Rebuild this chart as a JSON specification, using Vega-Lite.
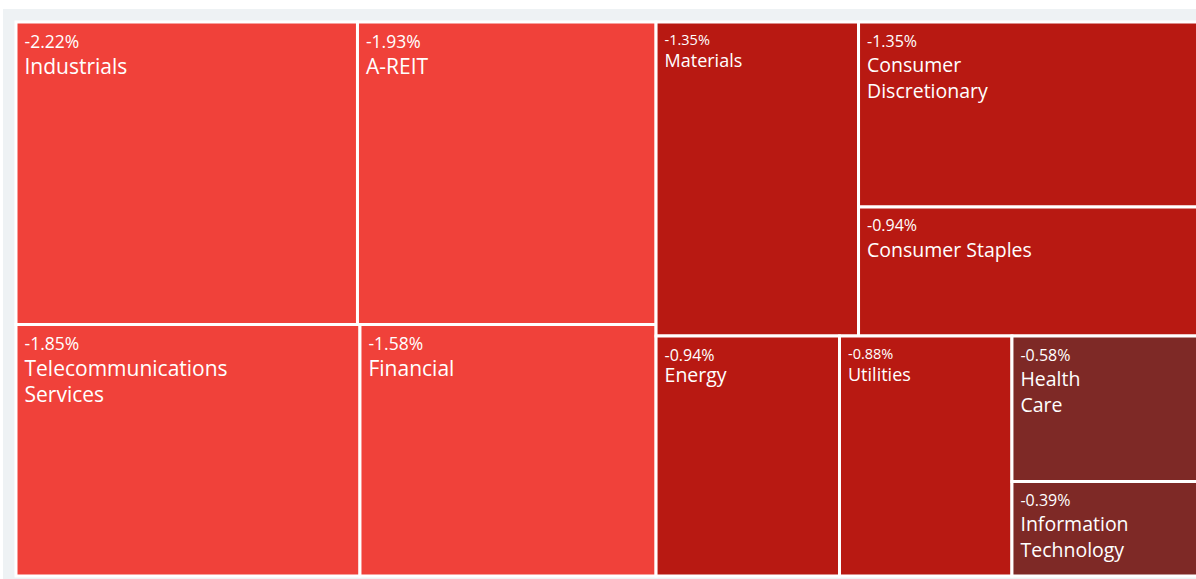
{
  "$schema": "https://vega.github.io/schema/vega-lite/v6.json",
  "width": 1193,
  "height": 570,
  "padding": {"left": 3, "top": 9, "right": 0, "bottom": 0},
  "autosize": {"type": "none"},
  "background": "#ffffff",
  "config": {"view": {"fill": "#eef2f4", "stroke": null}, "font": "Open Sans"},
  "data": {
    "values": [
      {"sector": "Industrials", "label": ["Industrials"], "change": -2.22, "x0": 0, "x1": 28.89, "y0": 0, "y1": 54.6},
      {"sector": "A-REIT", "label": ["A-REIT"], "change": -1.93, "x0": 28.89, "x1": 54.15, "y0": 0, "y1": 54.6},
      {"sector": "Telecommunications Services", "label": ["Telecommunications", "Services"], "change": -1.85, "x0": 0, "x1": 29.1, "y0": 54.6, "y1": 100},
      {"sector": "Financial", "label": ["Financial"], "change": -1.58, "x0": 29.1, "x1": 54.15, "y0": 54.6, "y1": 100},
      {"sector": "Materials", "label": ["Materials"], "change": -1.35, "x0": 54.15, "x1": 71.28, "y0": 0, "y1": 56.68},
      {"sector": "Consumer Discretionary", "label": ["Consumer", "Discretionary"], "change": -1.35, "x0": 71.28, "x1": 100, "y0": 0, "y1": 33.39},
      {"sector": "Consumer Staples", "label": ["Consumer Staples"], "change": -0.94, "x0": 71.28, "x1": 100, "y0": 33.39, "y1": 56.68},
      {"sector": "Energy", "label": ["Energy"], "change": -0.94, "x0": 54.15, "x1": 69.67, "y0": 56.68, "y1": 100},
      {"sector": "Utilities", "label": ["Utilities"], "change": -0.88, "x0": 69.67, "x1": 84.26, "y0": 56.68, "y1": 100},
      {"sector": "Health Care", "label": ["Health", "Care"], "change": -0.58, "x0": 84.26, "x1": 100, "y0": 56.68, "y1": 82.94},
      {"sector": "Information Technology", "label": ["Information", "Technology"], "change": -0.39, "x0": 84.26, "x1": 100, "y0": 82.94, "y1": 100}
    ]
  },
  "transform": [{"calculate": "datum.change + '%'", "as": "pct"}],
  "encoding": {
    "x": {"field": "x0", "type": "quantitative", "scale": {"domain": [0, 100], "range": [13, 1195], "nice": false, "zero": false}, "axis": null},
    "y": {"field": "y0", "type": "quantitative", "scale": {"domain": [0, 100], "range": [13, 567], "nice": false, "zero": false}, "axis": null}
  },
  "layer": [
    {
      "mark": {"type": "rect", "stroke": "#ffffff", "strokeWidth": 3},
      "encoding": {
        "x2": {"field": "x1"},
        "y2": {"field": "y1"},
        "color": {
          "field": "change",
          "type": "quantitative",
          "scale": {"type": "threshold", "domain": [-1.5, -0.7], "range": ["#f0413a", "#b81912", "#7e2926"]},
          "legend": null
        },
        "tooltip": [{"field": "sector"}, {"field": "pct"}]
      }
    },
    {
      "mark": {"type": "text", "align": "left", "baseline": "top", "dx": 8.5, "dy": 11.5, "color": "#ffffff"},
      "encoding": {
        "text": {"field": "pct"},
        "size": {
          "condition": [
            {"test": "indexof(['Materials','Utilities'], datum.sector) >= 0", "value": 14.5},
            {"test": "datum.x0 < 50", "value": 17.5}
          ],
          "value": 16
        }
      }
    },
    {
      "transform": [{"filter": "indexof(['Materials','Utilities','Energy'], datum.sector) >= 0"}],
      "mark": {"type": "text", "align": "left", "baseline": "top", "dx": 8.5, "dy": 31, "color": "#ffffff", "lineHeight": 25},
      "encoding": {
        "text": {"field": "label"},
        "size": {
          "condition": {"test": "datum.sector == 'Energy'", "value": 19.5},
          "value": 18
        }
      }
    },
    {
      "transform": [{"filter": "indexof(['Materials','Utilities','Energy'], datum.sector) < 0"}],
      "mark": {"type": "text", "align": "left", "baseline": "top", "dx": 8.5, "dy": 35, "color": "#ffffff", "lineHeight": 25.5},
      "encoding": {
        "text": {"field": "label"},
        "size": {
          "condition": {"test": "datum.x0 < 50", "value": 21},
          "value": 19.5
        }
      }
    }
  ]
}
